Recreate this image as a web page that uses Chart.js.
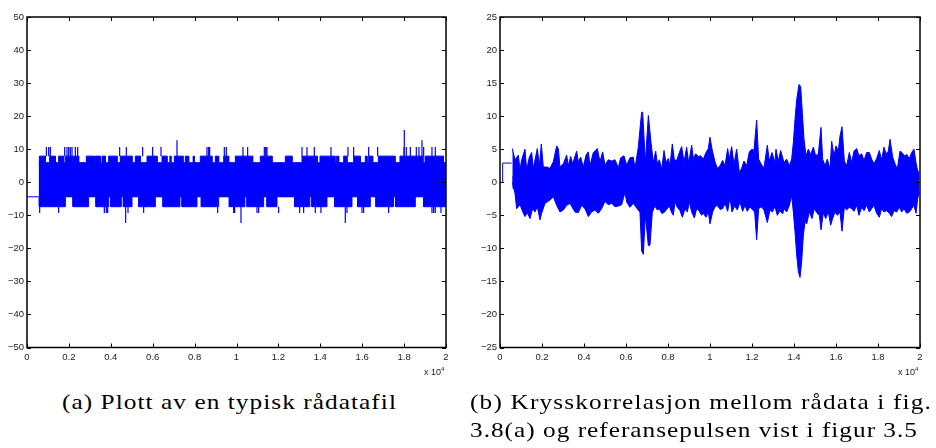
<!DOCTYPE html>
<html>
<head>
<meta charset="utf-8">
<script src="https://cdn.jsdelivr.net/npm/chart.js@4.4.1/dist/chart.umd.min.js"></script>
<style>
  body { margin: 0; background: #fff; width: 936px; height: 448px; overflow: hidden; position: relative; }
  canvas { position: absolute; top: 0; }
  .exp { position: absolute; font: 9px "Liberation Sans", Arial, sans-serif; color: #222; }
  .exp sup { font-size: 6px; }
  .cap { position: absolute; font-family: "Liberation Serif", serif; font-size: 22px; line-height: 25px; color: #000;
         white-space: nowrap; transform-origin: 0 0; }
</style>
</head>
<body>
<canvas id="rawChart" width="460" height="386" style="left:0"></canvas>
<canvas id="corrChart" width="476" height="386" style="left:460px"></canvas>
<div class="exp" style="left:424px; top:366px">x 10<sup>4</sup></div>
<div class="exp" style="left:898px; top:366px">x 10<sup>4</sup></div>
<div class="cap" data-w="335" style="left:62px; top:389px">(a) Plott av en typisk rådatafil</div>
<div class="cap" data-w="462" style="left:470px; top:389px">(b) Krysskorrelasjon mellom rådata i fig.</div>
<div class="cap" data-w="448" style="left:470px; top:417px">3.8(a) og referansepulsen vist i figur 3.5</div>
<script>
// x tick labels (units of 10^4 samples)
const xTickLabels = ["0", "0.2", "0.4", "0.6", "0.8", "1", "1.2", "1.4", "1.6", "1.8", "2"];
const rawYLabels = ["\u221250", "\u221240", "\u221230", "\u221220", "\u221210", "0", "10", "20", "30", "40", "50"];
const corrYLabels = ["\u221225", "\u221220", "\u221215", "\u221210", "\u22125", "0", "5", "10", "15", "20", "25"];

// (a) raw data file: quantized levels
const rawLead = [[0, -4.4], [560, -4.4]];
const rawStart = 560, rawEnd = 20000;
const rawTop = 5.9, rawTopHigh = 7.9;
const rawBottom = -4.4, rawBottomLow = -7.4;
// stretches where the signal reaches the 7.9 level
const rawUpperRuns = [[589, 875], [1082, 1352], [1511, 1750], [1830, 2148], [2196, 2466], [2832, 3214], [3261, 3500],
  [3580, 3739], [3898, 4296], [4455, 5012], [5171, 5409], [5728, 6205], [6444, 6682], [6820, 6870], [7032, 7446],
  [7557, 7716], [7930, 7980], [8273, 8830], [8989, 9148], [9387, 9626], [9944, 10771], [11137, 11694], [12330, 12648],
  [13126, 13850], [13985, 14701], [14780, 14876], [15115, 15274], [15592, 15910], [16149, 16228], [16308, 16500],
  [16769, 17565], [17803, 18900], [19000, 19872]];
// stretches where the signal reaches the -7.4 level
const rawLowerRuns = [[589, 1830], [2196, 2943], [3293, 3900], [4000, 4500], [4600, 5012], [5330, 6125], [6491, 7300],
  [7400, 8114], [8321, 9148], [9657, 10400], [10500, 11296], [11455, 11933], [12776, 13500], [13600, 14319],
  [14685, 15512], [15783, 16387], [16657, 17500], [17600, 18535], [18933, 19967]];
// single spikes above 7.9
const rawSpikeUpX = [923, 1034, 1114, 1798, 1909, 1989, 2068, 2148, 2307, 2418, 4423, 4741, 5521, 5998, 6396, 7160,
  8591, 8671, 8718, 9419, 9514, 10310, 10532, 11328, 11392, 11455, 13126, 13364, 13714, 14510, 15321, 15592,
  16308, 16737, 17990, 18010, 18105, 18297, 18583, 18710, 18853, 18933, 19330, 19489];
const rawSpikeUpY = [10.7, 10.7, 10.7, 10.7, 10.7, 10.7, 10.7, 10.7, 10.7, 10.7, 10.7, 10.7, 10.7, 10.7, 10.7, 12.7,
  10.7, 10.7, 10.7, 10.7, 10.7, 10.7, 10.7, 10.7, 10.7, 10.7, 10.7, 10.7, 10.7, 10.7, 10.7, 10.7,
  10.7, 10.7, 10.7, 15.8, 10.7, 10.7, 10.7, 10.7, 12.7, 10.7, 10.7, 10.7];
// single spikes below -7.4
const rawSpikeDownX = [605, 1511, 3691, 3786, 3850, 4709, 4821, 5568, 9100, 9864, 9912, 10214, 10978, 11057, 12012,
  13014, 13205, 13762, 14032, 15194, 15274, 15990, 16069, 17262, 19330, 19409, 19489, 19760];
const rawSpikeDownY = [-9.3, -9.3, -9.3, -9.3, -9.3, -12.3, -9.3, -9.3, -9.3, -9.3, -9.3, -12.3, -9.3, -9.3, -9.3,
  -9.3, -9.3, -9.3, -9.3, -12.3, -9.3, -9.3, -9.3, -9.3, -9.3, -9.3, -9.3, -9.3];

// (b) cross-correlation: upper and lower envelope
const corrLead = [[127, 0], [127, 2.9], [555, 2.9]];
const corrHiX = [587, 714, 873, 952, 1032, 1190, 1270, 1397, 1508, 1587, 1777, 1873, 1968, 2063, 2222, 2380, 2539,
  2698, 2777, 2857, 3015, 3174, 3253, 3364, 3460, 3650, 3729, 3841, 3968, 4094, 4206, 4285, 4444, 4634, 4761, 4888,
  4999, 5158, 5317, 5475, 5634, 5745, 5903, 6031, 6189, 6348, 6427, 6586, 6665, 6745, 6794, 6921, 7064, 7191, 7302,
  7413, 7492, 7587, 7699, 7810, 7905, 8016, 8095, 8206, 8302, 8413, 8540, 8651, 8762, 8889, 8984, 9127, 9206, 9317,
  9444, 9555, 9682, 9809, 9920, 9999, 10111, 10238, 10349, 10476, 10603, 10714, 10841, 10920, 11031, 11142, 11269,
  11396, 11507, 11618, 11745, 11872, 11999, 12094, 12221, 12316, 12460, 12571, 12730, 12825, 12952, 13094, 13142,
  13253, 13364, 13524, 13651, 13778, 13889, 13969, 14048, 14128, 14239, 14318, 14397, 14477, 14572, 14683, 14794,
  14921, 15032, 15159, 15286, 15365, 15476, 15587, 15714, 15794, 15905, 16000, 16111, 16191, 16286, 16397, 16508,
  16635, 16746, 16857, 16984, 17095, 17222, 17333, 17460, 17587, 17698, 17809, 17936, 18063, 18174, 18285, 18381,
  18492, 18572, 18698, 18809, 18920, 19047, 19143, 19254, 19365, 19492, 19603, 19714, 19809, 19888, 19968];
const corrHiY = [5.1, 3.4, 4.1, 1.9, 3.4, 5.0, 1.9, 3.8, 4.5, 2.1, 5.1, 2.5, 5.8, 2.3, 2.3, 2.1, 3.1,
  5.5, 5.1, 2.3, 2.8, 4.1, 2.5, 3.9, 2.8, 4.7, 3.1, 3.8, 2.3, 4.1, 4.6, 2.5, 4.5, 5.1, 3.1, 4.6,
  2.6, 3.4, 3.2, 3.4, 2.2, 3.7, 4.0, 2.6, 3.7, 3.8, 2.1, 5.3, 8.0, 10.6, 10.6, 3.0, 10.1, 6.0, 3.0,
  4.7, 2.8, 3.4, 2.0, 4.8, 3.0, 3.6, 2.5, 5.8, 3.4, 3.3, 4.5, 5.4, 3.0, 5.3, 2.9, 5.6, 3.6, 4.3,
  3.9, 4.0, 3.5, 4.5, 5.1, 6.8, 4.8, 3.1, 2.1, 2.5, 3.3, 2.5, 5.1, 3.5, 5.4, 2.7, 5.0,
  1.5, 2.1, 3.2, 2.5, 4.6, 5.0, 4.8, 9.4, 3.5, 2.6, 2.2, 5.6, 3.2, 4.5, 3.0, 5.0,
  3.2, 4.8, 3.0, 3.5, 2.5, 3.5, 6.0, 9.5, 12.5, 14.8, 14.5, 10.5, 6.5, 4.0, 5.0, 4.2,
  5.3, 4.0, 4.3, 8.3, 3.5, 2.5, 3.5, 2.0, 6.2, 4.0, 5.5, 4.7, 7.0, 8.4, 3.2, 2.5,
  4.5, 3.0, 4.7, 5.1, 4.0, 4.3, 3.3, 4.5, 4.5, 3.5, 2.8, 3.6, 4.8, 3.4, 5.3, 4.3,
  4.7, 6.5, 3.8, 2.8, 2.0, 4.7, 4.5, 4.0, 4.2, 3.6, 4.5, 5.0, 3.0, 1.7, 1.5];
const corrLoX = [587, 714, 794, 952, 1111, 1190, 1301, 1428, 1555, 1666, 1777, 1905, 1984, 2142, 2380, 2539, 2698,
  2857, 3015, 3174, 3333, 3571, 3729, 3888, 4047, 4206, 4364, 4523, 4682, 4840, 4999, 5158, 5317, 5475, 5634, 5793,
  5872, 5951, 6031, 6189, 6348, 6507, 6665, 6746, 6826, 6921, 7064, 7143, 7254, 7381, 7492, 7587, 7699, 7810, 7937,
  8063, 8175, 8254, 8333, 8444, 8572, 8683, 8809, 8921, 9016, 9127, 9254, 9365, 9476, 9603, 9682, 9809, 9920, 9999,
  10127, 10238, 10349, 10476, 10603, 10714, 10841, 10952, 11047, 11174, 11301, 11428, 11555, 11666, 11777, 11904,
  12031, 12126, 12221, 12316, 12444, 12571, 12730, 12856, 12968, 13094, 13205, 13332, 13459, 13524, 13651, 13778,
  13889, 13969, 14048, 14128, 14207, 14286, 14366, 14445, 14524, 14604, 14730, 14857, 14969, 15080, 15207, 15286,
  15397, 15508, 15635, 15746, 15841, 15952, 16064, 16191, 16286, 16397, 16508, 16635, 16746, 16857, 16984, 17095,
  17222, 17333, 17460, 17587, 17698, 17809, 17936, 18063, 18174, 18285, 18412, 18539, 18650, 18761, 18889, 19016,
  19127, 19238, 19365, 19492, 19603, 19714, 19809, 19888, 19968];
const corrLoY = [0.0, -1.7, -4.0, -3.4, -4.7, -5.2, -4.6, -5.5, -4.0, -4.5, -3.7, -5.7, -4.7, -3.2, -2.7, -2.2, -3.5,
  -4.5, -4.2, -3.5, -3.2, -4.5, -4.6, -3.5, -4.0, -5.2, -4.5, -4.2, -4.7, -4.0, -2.9, -3.4, -3.2, -3.7, -3.6, -3.4,
  -2.5, -1.5, -3.0, -3.8, -3.2, -3.9, -4.5, -10.4, -10.9, -5.0, -9.6, -9.5, -4.5, -3.6, -4.2, -4.0, -4.7, -4.6, -4.1,
  -3.6, -4.6, -5.0, -3.0, -3.8, -4.3, -5.3, -4.0, -4.5, -3.0, -4.5, -5.4, -4.0, -4.3, -5.0, -4.7, -5.3, -4.5, -6.3,
  -4.5, -3.7, -3.5, -4.1, -4.0, -3.2, -4.4, -2.3, -4.5, -3.6, -4.2, -3.0, -4.4, -3.5, -4.4, -3.7,
  -4.2, -4.5, -8.7, -4.0, -3.7, -4.2, -6.1, -4.2, -4.5, -3.7, -5.0, -4.3, -4.8, -4.0, -4.5, -3.5,
  -2.0, -4.5, -7.5, -11.0, -13.5, -14.4, -12.0, -8.0, -6.0, -6.3, -4.5, -5.5, -4.0, -4.6, -5.0, -7.2,
  -4.6, -5.5, -4.5, -6.5, -5.5, -4.5, -5.0, -4.5, -7.4, -3.8, -4.2, -3.8, -4.0, -4.4, -3.5, -5.0,
  -3.8, -4.3, -3.5, -4.5, -4.0, -3.5, -4.7, -5.3, -4.0, -4.5, -4.3, -4.7, -5.2, -4.3, -4.5, -3.8,
  -4.5, -4.0, -4.7, -4.5, -4.0, -3.5, -4.7, -2.5, -1.5];

const BLUE = "#0000ff";

function stepPoints(runs, base, level) {
  const pts = [{ x: rawStart, y: base }];
  runs.forEach(r => {
    pts.push({ x: r[0], y: base }, { x: r[0], y: level }, { x: r[1], y: level }, { x: r[1], y: base });
  });
  pts.push({ x: rawEnd, y: base });
  return pts;
}

function spikePoints(xs, ys, base) {
  const pts = [];
  xs.forEach((x, i) => {
    pts.push({ x: x, y: base }, { x: x, y: ys[i] }, { x: x, y: null });
  });
  return pts;
}

function zipXY(xs, ys) {
  return xs.map((x, i) => ({ x: x, y: ys[i] }));
}

function pairs(list) {
  return list.map(p => ({ x: p[0], y: p[1] }));
}

// MATLAB style box with inward ticks
const boxPlugin = {
  id: "box",
  afterDraw(chart) {
    const ctx = chart.ctx, a = chart.chartArea;
    const xs = chart.scales.x, ys = chart.scales.y;
    ctx.save();
    ctx.strokeStyle = "#000";
    ctx.lineWidth = 1;
    xs.ticks.forEach(t => {
      const px = Math.round(xs.getPixelForValue(t.value)) + 0.5;
      ctx.beginPath();
      ctx.moveTo(px, a.bottom); ctx.lineTo(px, a.bottom - 4);
      ctx.moveTo(px, a.top); ctx.lineTo(px, a.top + 4);
      ctx.stroke();
    });
    ys.ticks.forEach(t => {
      const py = Math.round(ys.getPixelForValue(t.value)) + 0.5;
      ctx.beginPath();
      ctx.moveTo(a.left, py); ctx.lineTo(a.left + 4, py);
      ctx.moveTo(a.right, py); ctx.lineTo(a.right - 4, py);
      ctx.stroke();
    });
    ctx.lineWidth = 1.5;
    ctx.strokeRect(a.left, a.top, a.right - a.left, a.bottom - a.top);
    ctx.restore();
  }
};

function makeOptions(yMin, yMax, yStep, yLabels, yWidth, padRight) {
  const font = { family: "'Liberation Sans', Arial, sans-serif", size: 9.5 };
  return {
    responsive: false,
    animation: false,
    layout: { padding: { top: 17, right: padRight, left: 0, bottom: 0 } },
    plugins: { legend: { display: false }, tooltip: { enabled: false } },
    elements: { point: { radius: 0 }, line: { tension: 0 } },
    scales: {
      x: {
        type: "linear", min: 0, max: 20000,
        grid: { display: false, drawTicks: false },
        border: { display: false },
        ticks: {
          stepSize: 2000, autoSkip: false, maxRotation: 0, padding: 4, color: "#222", font: font,
          callback: (v, i) => xTickLabels[i]
        },
        afterFit: s => { s.height = 38.5; }
      },
      y: {
        min: yMin, max: yMax,
        grid: { display: false, drawTicks: false },
        border: { display: false },
        ticks: {
          stepSize: yStep, padding: 3, color: "#222", font: font,
          callback: (v, i) => yLabels[i]
        },
        afterFit: s => { s.width = yWidth; }
      }
    }
  };
}

new Chart(document.getElementById("rawChart"), {
  type: "line",
  data: {
    datasets: [
      { data: pairs(rawLead), borderColor: BLUE, borderWidth: 1, fill: false },
      // fills overlap across the middle so no seam shows
      { data: stepPoints(rawUpperRuns, rawTop, rawTopHigh), borderColor: BLUE, backgroundColor: BLUE, borderWidth: 1, fill: { value: rawBottom } },
      { data: stepPoints(rawLowerRuns, rawBottom, rawBottomLow), borderColor: BLUE, backgroundColor: BLUE, borderWidth: 1, fill: { value: rawTop } },
      { data: spikePoints(rawSpikeUpX, rawSpikeUpY, rawTopHigh), borderColor: BLUE, borderWidth: 1.2, fill: false, spanGaps: false },
      { data: spikePoints(rawSpikeDownX, rawSpikeDownY, rawBottomLow), borderColor: BLUE, borderWidth: 1.2, fill: false, spanGaps: false }
    ]
  },
  options: makeOptions(-50, 50, 10, rawYLabels, 27, 14),
  plugins: [boxPlugin]
});

new Chart(document.getElementById("corrChart"), {
  type: "line",
  data: {
    datasets: [
      { data: pairs(corrLead), borderColor: BLUE, borderWidth: 1, fill: false },
      { data: zipXY(corrHiX, corrHiY), borderColor: BLUE, backgroundColor: BLUE, borderWidth: 1, fill: { value: -1 } },
      { data: zipXY(corrLoX, corrLoY), borderColor: BLUE, backgroundColor: BLUE, borderWidth: 1, fill: { value: 1 } }
    ]
  },
  options: makeOptions(-25, 25, 5, corrYLabels, 40, 16),
  plugins: [boxPlugin]
});

// widen captions to the width they have in the figure: a little stretch, rest as spacing
document.querySelectorAll(".cap").forEach(el => {
  const target = +el.dataset.w;
  const w = el.getBoundingClientRect().width;
  const k = Math.min(1.15, target / w);
  el.style.letterSpacing = ((target / k - w) / el.textContent.length) + "px";
  el.style.transform = "scaleX(" + k + ")";
});
</script>
</body>
</html>
